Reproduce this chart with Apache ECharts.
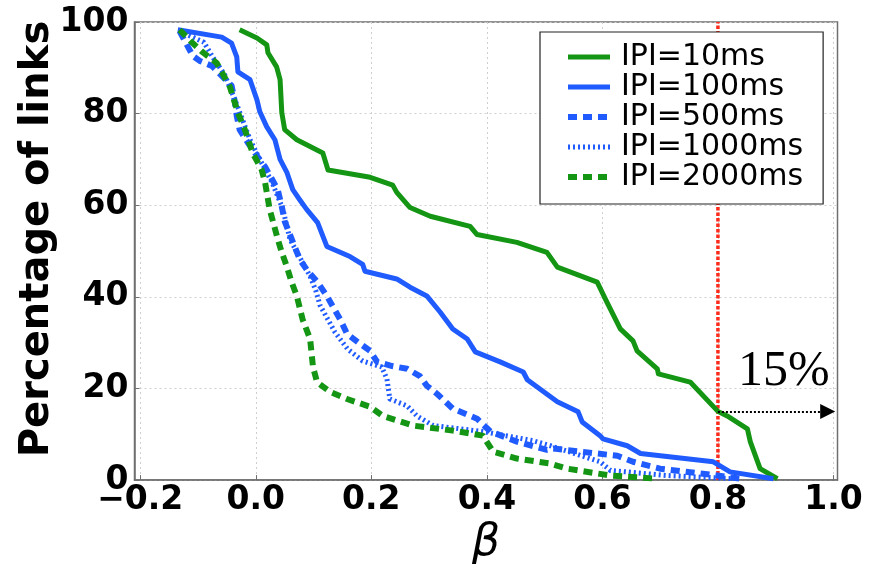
<!DOCTYPE html>
<html>
<head>
<meta charset="utf-8">
<script src="https://cdn.jsdelivr.net/npm/echarts@6/dist/echarts.min.js"></script>
<style>
  html, body { margin: 0; padding: 0; background: #fff; }
  #chart { width: 878px; height: 571px; }
</style>
</head>
<body>
<div id="chart"></div>
<script>
// Tick values for both axes
const xTicks = [-0.2, 0.0, 0.2, 0.4, 0.6, 0.8, 1.0];
const yTicks = [0, 20, 40, 60, 80, 100];

// Legend names
const seriesNames = ['IPI=10ms', 'IPI=100ms', 'IPI=500ms', 'IPI=1000ms', 'IPI=2000ms'];

// [beta, percentage of links] for each probing interval
const ipi10 = [
  [-0.028, 98.3], [0.002, 96.5], [0.019, 95.0], [0.021, 93.3], [0.036, 90.2], [0.042, 87.4],
  [0.045, 80.2], [0.050, 76.5], [0.071, 74.3], [0.088, 73.2], [0.116, 71.4], [0.125, 67.7],
  [0.198, 66.1], [0.237, 64.4], [0.244, 62.8], [0.267, 59.5], [0.302, 57.6], [0.371, 55.4],
  [0.383, 53.6], [0.452, 51.9], [0.504, 49.7], [0.522, 46.5], [0.591, 43.2], [0.608, 38.8],
  [0.631, 33.0], [0.653, 30.4], [0.660, 28.2], [0.695, 24.3], [0.697, 23.2], [0.752, 21.4],
  [0.800, 15.0], [0.816, 14.0], [0.851, 11.2], [0.856, 8.4], [0.873, 2.5], [0.903, 0.3]
];
const ipi100 = [
  [-0.135, 98.3], [-0.059, 96.7], [-0.042, 95.4], [-0.033, 92.4], [-0.031, 89.1], [-0.010, 87.4],
  [0.002, 83.0], [0.007, 80.4], [0.019, 77.1], [0.033, 74.3], [0.042, 70.0], [0.054, 67.1],
  [0.064, 63.4], [0.076, 61.2], [0.088, 59.1], [0.107, 56.2], [0.123, 51.0], [0.163, 48.8],
  [0.185, 47.1], [0.189, 45.6], [0.244, 43.9], [0.267, 42.1], [0.296, 40.2], [0.319, 36.7],
  [0.341, 33.0], [0.366, 30.8], [0.380, 28.0], [0.423, 25.8], [0.463, 23.6], [0.470, 21.9],
  [0.522, 17.1], [0.558, 14.9], [0.565, 12.7], [0.596, 9.7], [0.601, 9.0], [0.643, 7.5],
  [0.666, 5.8], [0.792, 4.0], [0.821, 1.8], [0.896, 0.3]
];
const ipi500 = [
  [-0.132, 98.0], [-0.109, 92.6], [-0.097, 91.5], [-0.076, 90.4], [-0.042, 86.1], [-0.036, 82.4],
  [-0.033, 79.5], [-0.028, 76.5], [-0.014, 73.7], [0.007, 69.9], [0.016, 68.4], [0.038, 63.4],
  [0.045, 59.7], [0.050, 56.5], [0.076, 48.2], [0.090, 45.6], [0.107, 43.2], [0.123, 40.2],
  [0.146, 35.1], [0.158, 31.9], [0.177, 30.1], [0.198, 28.2], [0.210, 25.8], [0.236, 24.9],
  [0.262, 24.3], [0.284, 22.7], [0.296, 20.6], [0.314, 18.8], [0.341, 15.6], [0.383, 13.4],
  [0.406, 10.6], [0.452, 8.4], [0.504, 6.6], [0.515, 6.9], [0.626, 5.3], [0.653, 4.0],
  [0.700, 2.5], [0.799, 1.0], [0.839, 0.3]
];
const ipi1000 = [
  [-0.132, 98.0], [-0.090, 95.6], [-0.075, 92.4], [-0.054, 88.5], [-0.036, 83.0], [-0.023, 78.7],
  [-0.010, 74.3], [0.007, 70.0], [0.028, 65.0], [0.047, 59.1], [0.059, 52.6], [0.094, 44.5],
  [0.104, 41.3], [0.111, 38.2], [0.137, 32.3], [0.159, 28.6], [0.185, 26.0], [0.218, 24.7],
  [0.227, 22.1], [0.232, 17.7], [0.262, 16.2], [0.279, 14.0], [0.307, 11.9], [0.393, 10.6],
  [0.480, 8.6], [0.510, 7.5], [0.596, 4.0], [0.614, 2.1], [0.712, 1.0], [0.827, 0.3]
];
const ipi2000 = [
  [-0.132, 98.3], [-0.111, 95.6], [-0.092, 93.4], [-0.068, 91.1], [-0.045, 85.9], [-0.031, 80.2],
  [-0.019, 76.5], [-0.005, 71.3], [0.010, 67.8], [0.016, 65.0], [0.024, 59.1], [0.038, 52.6],
  [0.045, 49.7], [0.054, 46.5], [0.062, 43.2], [0.071, 40.2], [0.081, 35.1], [0.094, 30.8],
  [0.099, 24.7], [0.106, 21.4], [0.128, 19.3], [0.158, 17.7], [0.198, 16.0], [0.220, 14.0],
  [0.272, 11.9], [0.341, 10.8], [0.393, 9.7], [0.411, 6.2], [0.452, 4.7], [0.510, 3.6],
  [0.539, 2.5], [0.613, 1.0], [0.695, 0.3]
];

// Threshold marker and the share of links beyond it
const cutoff = 0.8;
const shareAboveCut = 15;
const arrowEnd = 0.99;
const cutoffLine = [[cutoff, 0], [cutoff, 100]];

const GREEN = '#149614';
const BLUE = '#1f5bff';
const AXIS_GREY = '#6f6f6f';

// Per-series line look: colour, dash pattern, width
const looks = [
  { color: GREEN, type: 'solid', width: 5 },
  { color: BLUE, type: 'solid', width: 5 },
  { color: BLUE, type: [9, 6], width: 6 },
  { color: BLUE, type: [2, 3], width: 5 },
  { color: GREEN, type: [9, 6], width: 6 }
];
const curveData = [ipi10, ipi100, ipi500, ipi1000, ipi2000];

function curve(i) {
  const look = looks[i];
  return {
    name: seriesNames[i],
    type: 'line',
    data: curveData[i],
    symbol: 'none',
    showSymbol: false,
    animation: false,
    lineStyle: { color: look.color, width: look.width, type: look.type, cap: 'butt', join: 'round' },
    itemStyle: { color: look.color },
    z: 3
  };
}

const fmtX = v => (v < 0 ? '\u2212' : '') + Math.abs(v).toFixed(1);

const chart = echarts.init(document.getElementById('chart'), null, { renderer: 'canvas' });

chart.setOption({
  animation: false,
  backgroundColor: '#fff',
  grid: {
    left: 134.5, right: 40.5, top: 22, bottom: 89.5,
    show: true, borderColor: AXIS_GREY, borderWidth: 1.5, backgroundColor: 'transparent'
  },
  xAxis: {
    type: 'value',
    min: -0.21,
    max: 1.007,
    name: 'β',
    nameLocation: 'middle',
    nameGap: 39,
    nameTextStyle: {
      fontFamily: 'DejaVu Sans', fontStyle: 'italic', fontWeight: 'normal',
      fontSize: 44, color: '#000'
    },
    axisLine: { show: true, onZero: false, lineStyle: { color: AXIS_GREY, width: 1.5 } },
    axisTick: { show: true, inside: true, length: 5, customValues: xTicks,
      lineStyle: { color: AXIS_GREY, width: 1 } },
    axisLabel: {
      customValues: xTicks,
      formatter: fmtX,
      fontFamily: 'DejaVu Sans', fontWeight: 'bold', fontSize: 33, color: '#000',
      margin: 4
    },
    splitLine: { show: true, lineStyle: { color: '#cfcfcf', width: 1, type: [2, 3] } }
  },
  yAxis: {
    type: 'value',
    min: 0,
    max: 100,
    interval: 20,
    axisLine: { show: true, onZero: false, lineStyle: { color: AXIS_GREY, width: 1.5 } },
    axisTick: { show: true, inside: true, length: 5, lineStyle: { color: AXIS_GREY, width: 1 } },
    axisLabel: {
      fontFamily: 'DejaVu Sans', fontWeight: 'bold', fontSize: 33, color: '#000',
      margin: 6
    },
    splitLine: { show: true, lineStyle: { color: '#cfcfcf', width: 1, type: [2, 3] } }
  },
  legend: {
    data: seriesNames.map((n, i) => ({
      name: n,
      lineStyle: { width: looks[i].width, type: looks[i].type, color: looks[i].color, cap: 'butt' }
    })),
    orient: 'vertical',
    left: 540,
    top: 32,
    padding: [10, 20, 12, 25],
    itemGap: 0,
    itemWidth: 42,
    itemHeight: 14,
    backgroundColor: '#fff',
    borderColor: '#222',
    borderWidth: 1.2,
    borderRadius: 0,
    selectedMode: false,
    itemStyle: { opacity: 0 },
    textStyle: {
      fontFamily: 'DejaVu Sans', fontSize: 30, color: '#000',
      lineHeight: 30, padding: [0, 0, 0, 6]
    },
    z: 10
  },
  series: [
    {
      name: 'cutoff',
      type: 'line',
      data: cutoffLine,
      symbol: 'none',
      showSymbol: false,
      animation: false,
      lineStyle: { color: '#ff2a1a', width: 3.5, type: [3.5, 2], cap: 'butt' },
      z: 2,
      markLine: {
        silent: true,
        animation: false,
        symbol: ['none', 'triangle'],
        symbolSize: [15, 15],
        lineStyle: { color: '#000', width: 2, type: [2, 2] },
        label: { show: false },
        data: [[{ coord: [cutoff, shareAboveCut] }, { coord: [arrowEnd, shareAboveCut] }]]
      }
    },
    curve(0), curve(1), curve(2), curve(3), curve(4)
  ]
});

// Axis title and the percentage label above the arrow, right-aligned to its tip
const tip = chart.convertToPixel({ gridIndex: 0 }, [arrowEnd, shareAboveCut]);
chart.setOption({
  graphic: [{
    type: 'text',
    id: 'y-title',
    x: 38,
    y: 239,
    rotation: Math.PI / 2,
    style: {
      text: 'Percentage of links',
      font: 'bold 40px "DejaVu Sans"',
      fill: '#000',
      align: 'center',
      verticalAlign: 'middle'
    }
  }, {
    type: 'text',
    id: 'share-label',
    x: tip[0] + 2,
    y: tip[1] - 15,
    z: 20,
    style: {
      text: shareAboveCut + '%',
      font: '50px "Liberation Serif"',
      fill: '#000',
      align: 'right',
      verticalAlign: 'bottom'
    }
  }]
});
</script>
</body>
</html>
